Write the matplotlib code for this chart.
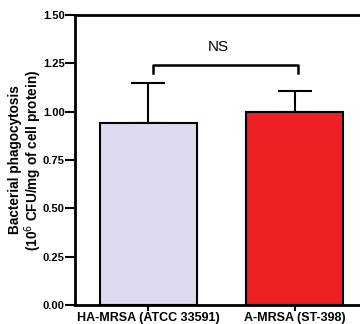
import matplotlib
matplotlib.use("Agg")
import matplotlib.pyplot as plt

categories = ["HA-MRSA (ATCC 33591)", "A-MRSA (ST-398)"]
means = [0.94, 1.00]
errors = [0.21, 0.107]
colors = ["#dcdcee", "#ee2024"]
yticks = [0.00, 0.25, 0.50, 0.75, 1.00, 1.25, 1.50]
sig_label = "NS"

plt.rcParams['font.family'] = ['Liberation Sans', 'DejaVu Sans']

fig = plt.figure(figsize=(3.6, 3.24), dpi=100)
ax = fig.add_axes([75/360, 19/324, 293/360, 290/324])

x = [0, 1]
ax.bar(x, means, width=0.66, color=colors, edgecolor="black", linewidth=1.5, zorder=2)
ax.errorbar(x, means, yerr=[[0, 0], errors], fmt="none", ecolor="black",
            elinewidth=1.5, capsize=12, capthick=1.5, zorder=1)

# significance bracket
yb, yd = 1.241, 1.198
ax.plot([0.03, 0.03, 1.02, 1.02], [yd, yb, yb, yd], color="black", lw=1.8, clip_on=False)
ax.text(0.48, 1.30, sig_label, ha="center", va="bottom", fontsize=11)

ax.set_xlim(-0.5, 1.5)
ax.set_ylim(0, 1.5)
ax.set_yticks(yticks)
ax.set_yticklabels([f"{v:.2f}" for v in yticks], fontsize=8, fontweight="bold")
ax.set_xticks(x)
ax.set_xticklabels(categories, fontsize=9, fontweight="bold")
ax.tick_params(axis="y", width=1.5, length=7, direction="out", pad=0.5)
ax.tick_params(axis="x", width=1.5, length=4, direction="out", pad=1)
for s in ax.spines.values():
    s.set_linewidth(2)
ax.set_ylabel("Bacterial phagocytosis\n(10$^{6}$ CFU/mg of cell protein)",
              fontsize=9.8, fontweight="bold", linespacing=1.05)
ax.yaxis.set_label_coords(-0.105, 0.5)

fig.savefig("out.png", dpi=100)
